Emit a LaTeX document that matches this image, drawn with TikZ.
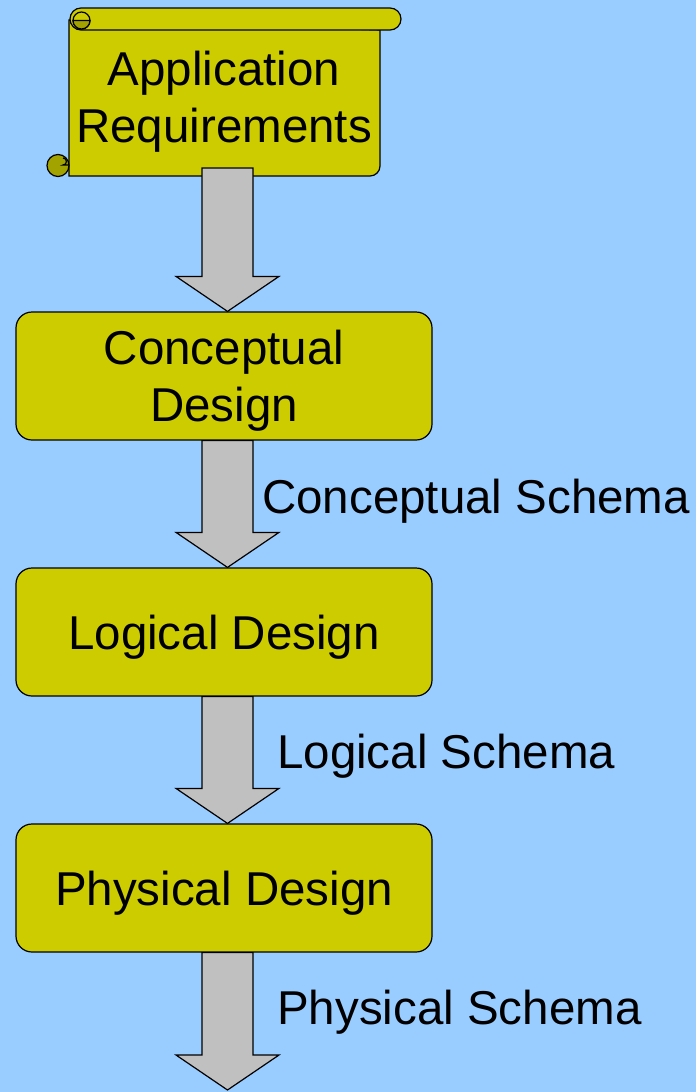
\documentclass[tikz,border=0pt]{standalone}
\usepackage{fontspec}
\setmainfont{Liberation Sans}
\usetikzlibrary{calc}

\definecolor{skyblue}{HTML}{99CCFF}
\definecolor{olivefill}{HTML}{CCCC00}
\definecolor{olivedark}{HTML}{A3A300}
\definecolor{arrowgray}{HTML}{C0C0C0}

% fat block arrow from #1 (shaft top) down to #2 (tip)
\newcommand{\fatarrow}[2]{%
  \draw[fatarrow] let \p1=(#1), \p2=(#2) in
    (\x1-25.5pt,\y1) -- (\x1-25.5pt,\y2+35pt) -- (\x1-51.5pt,\y2+35pt)
    -- (\x1,\y2) -- (\x1+51.5pt,\y2+35pt) -- (\x1+25.5pt,\y2+35pt)
    -- (\x1+25.5pt,\y1) -- cycle;}

\begin{document}
\begin{tikzpicture}[x=1pt,y=-1pt]

    \tikzset{
      box/.style={
        draw,
        line width=1.2pt,
        fill=olivefill,
        rounded corners=16pt,
        minimum width=416pt,
        minimum height=128pt,
        align=center,
        text depth=0pt,
        font=\fontsize{47.5}{57}\selectfont,
      },
      label/.style={
        inner sep=0pt,
        anchor=west,
        font=\fontsize{47.5}{57}\selectfont,
      },
      fatarrow/.style={
        draw,
        line width=1.2pt,
        fill=arrowgray,
        line join=miter,
      },
      scroll/.style={
        draw,
        line width=1.2pt,
        fill=olivefill,
      },
    }
    \fill[skyblue] (0,0) rectangle (696,1092);

    % the scroll
    \path[scroll] (69,20) -- (69,176) -- (370,176) arc[start angle=270,end angle=360,radius=10pt] -- (380,30) -- cycle;
    \path[scroll,fill=olivedark] (58,165.5) circle[radius=11pt];
    \draw[line width=1.2pt] (63,158) arc[start angle=90,end angle=-90,radius=3.5pt] -- (69,165);
    \path[scroll] (81,8) -- (390,8) arc[start angle=90,end angle=-90,radius=11pt] -- (81,30) arc[start angle=270,end angle=90,radius=11pt] -- cycle;
    \path[scroll] (81.5,20.5) circle[radius=8.5pt];
    \path[scroll,fill=olivedark] (73,20.5) arc[start angle=180,end angle=360,radius=8.5pt] -- cycle;
    \node[align=center,inner sep=0pt,font=\fontsize{47.5}{57}\selectfont] (req) at (224,102) {Application\\Requirements};

    \node[box] (concept) at (224,376) {Conceptual\\Design};
    \node[box] (logic) at (224,632) {Logical Design};
    \node[box] (phys) at (224,888) {Physical Design};

    \coordinate (reqout) at (227.5,168);
    \coordinate (end) at (227.5,1090);

	\fatarrow{reqout}{concept.north}
	\fatarrow{$(concept.south)+(3.5,0)$}{logic.north}
	\fatarrow{$(logic.south)+(3.5,0)$}{phys.north}
	\fatarrow{$(phys.south)+(3.5,0)$}{end}

    \node[label] (cschema) at (262,501) {Conceptual Schema};
    \node[label] (lschema) at (277,756) {Logical Schema};
    \node[label] (pschema) at (277,1012) {Physical Schema};

\end{tikzpicture}
\end{document}
